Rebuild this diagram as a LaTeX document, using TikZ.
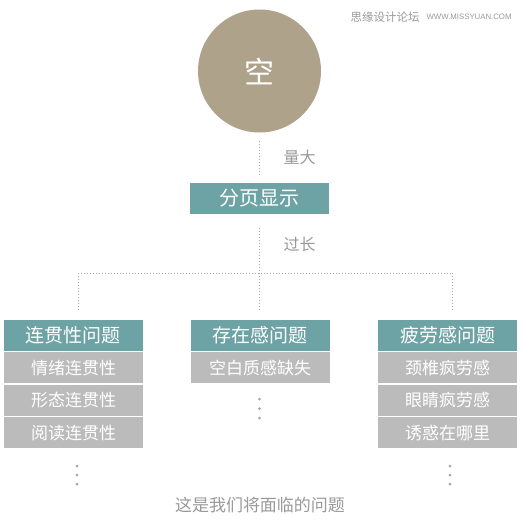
\documentclass[tikz,border=0pt]{standalone}
\usepackage{fontspec}
\setmainfont{Noto Sans CJK SC}
\newfontfamily\latinfont{Liberation Sans}
\usetikzlibrary{positioning}

\definecolor{teal1}{HTML}{6DA3A4}
\definecolor{gray1}{HTML}{BBBBBB}
\definecolor{sand}{HTML}{AEA28A}
\definecolor{note}{HTML}{999999}
\definecolor{dotgray}{HTML}{A5A5A5}

\begin{document}
\begin{tikzpicture}[x=1pt, y=-1pt,
    head/.style={fill=teal1, text=white, minimum width=139pt, minimum height=31pt,
        inner sep=0pt, font=\fontsize{19}{19}\selectfont},
    item/.style={fill=gray1, text=white, minimum width=139pt, minimum height=31pt,
        inner sep=0pt, font=\fontsize{17}{17}\selectfont},
    note/.style={text=note, font=\fontsize{16}{16}\selectfont},
    link/.style={draw=dotgray, dotted, line width=1pt},
    pt/.style={fill=dotgray, draw=none}
]
\useasboundingbox (0,0) rectangle (523,523);

% watermark
\node[text=note, anchor=west, font=\fontsize{11.5}{12}\selectfont] (wm) at (347,17) {思缘设计论坛};
\node[text=note, anchor=west, font=\latinfont\fontsize{7.8}{8}\selectfont] (wmurl) at (wm.east) {WWW.MISSYUAN.COM};

% top
\node[circle, fill=sand, minimum size=123pt, inner sep=0pt, text=white,
    font=\fontsize{30}{30}\selectfont] (kong) at (259.5,71) {空};
\node[head, font=\fontsize{20}{20}\selectfont] (page) at (259.5,198.5) {分页显示};

\draw[link, shorten <=8pt, shorten >=8pt] (kong.south) -- (page.north);
\node[note, anchor=west] at (280,157) {量大};

\coordinate (split) at (259.5,273);
\coordinate (lt) at (78,273);
\coordinate (rt) at (452,273);
\draw[link, shorten <=14pt] (page.south) -- (split);
\node[note, anchor=west] at (280,244) {过长};
\draw[link] (lt) -- (rt);

% columns
\node[head] (c1) at (73.5,335.5) {连贯性问题};
\node[head] (c2) at (260,335.5) {存在感问题};
\node[head] (c3) at (447.5,335.5) {疲劳感问题};

\draw[link, shorten >=10pt] (lt) -- (lt |- c1.north);
\draw[link, shorten >=10pt] (split) -- (split |- c2.north);
\draw[link, shorten >=10pt] (rt) -- (rt |- c3.north);

\node[item, below=1pt of c1] (c1a) {情绪连贯性};
\node[item, below=1pt of c1a] (c1b) {形态连贯性};
\node[item, below=1pt of c1b] (c1c) {阅读连贯性};

\node[item, below=1pt of c2] (c2a) {空白质感缺失};

\node[item, below=1pt of c3] (c3a) {颈椎疯劳感};
\node[item, below=1pt of c3a] (c3b) {眼睛疯劳感};
\node[item, below=1pt of c3b] (c3c) {诱惑在哪里};

% more items
\foreach \y in {399,408.5,418} \fill[pt] (259.5,\y) circle (1.5pt);
\foreach \y in {466,475,484} {
    \fill[pt] (77,\y) circle (1.5pt);
    \fill[pt] (450,\y) circle (1.5pt);
}

\node[note, font=\fontsize{17}{17}\selectfont] (summary) at (260,505) {这是我们将面临的问题};

\end{tikzpicture}
\end{document}
